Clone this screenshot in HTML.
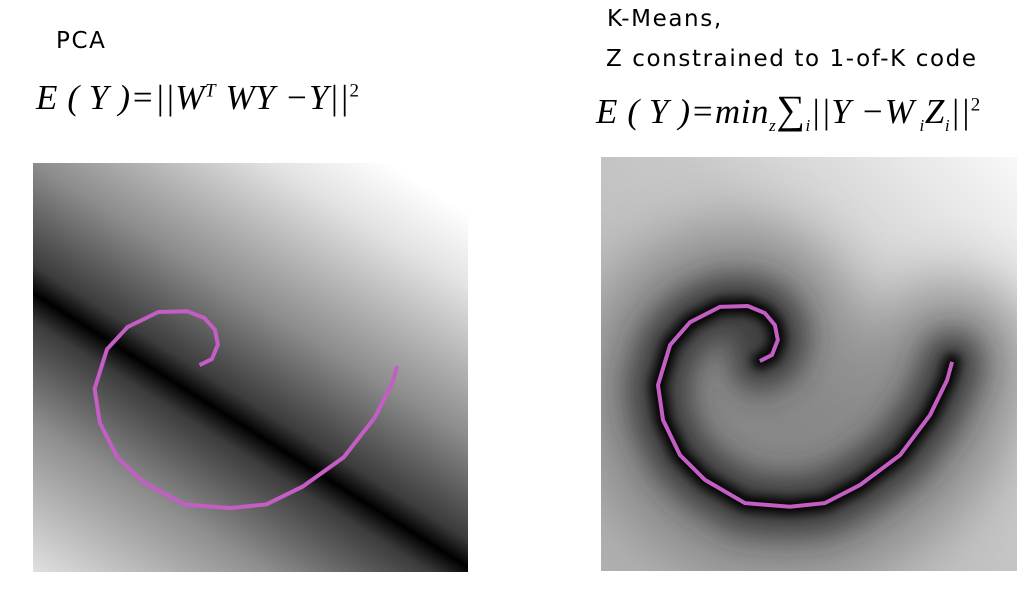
<!DOCTYPE html>
<html><head><meta charset="utf-8"><style>
body{margin:0;width:1033px;height:590px;background:#fff;overflow:hidden;position:relative;font-family:"DejaVu Sans","Liberation Sans",sans-serif}
.t{position:absolute;font-size:23px;color:#000;white-space:nowrap;font-family:"DejaVu Sans",sans-serif;letter-spacing:1.6px}
.f{position:absolute;font-family:"Liberation Serif",serif;font-style:italic;font-size:35px;white-space:nowrap;letter-spacing:0.6px}
</style></head><body>
<div class="t" style="left:56px;top:28px">PCA</div>
<div class="f" style="left:36px;top:78px">E ( Y )=||W<sup style="font-size:19px">T</sup> WY −Y||<sup style="font-size:19px;font-style:normal">2</sup></div>
<div class="t" style="left:607px;top:6px">K-Means,</div>
<div class="t" style="left:606px;top:46px">Z constrained to 1-of-K code</div>
<div class="f" style="left:596px;top:86px">E ( Y )=min<sub style="font-size:17px">z</sub><span style="font-style:normal;font-size:40px">∑</span><sub style="font-size:17px">i</sub>||Y −W<sub style="font-size:17px"> i</sub>Z<sub style="font-size:17px">i</sub>||<sup style="font-size:19px;font-style:normal">2</sup></div>
<svg id="svg" width="1033" height="590" style="position:absolute;left:0;top:0">
<defs>
<linearGradient id="lg" gradientUnits="userSpaceOnUse" x1="410" y1="176" x2="90" y2="684">
<stop offset="0" stop-color="#fff"/><stop offset="0.107" stop-color="#e2e2e2"/><stop offset="0.317" stop-color="#8c8c8c"/><stop offset="0.46" stop-color="#3c3c3c"/><stop offset="0.5" stop-color="#000"/><stop offset="0.54" stop-color="#3c3c3c"/><stop offset="0.683" stop-color="#8e8e8e"/><stop offset="0.893" stop-color="#e0e0e0"/><stop offset="1" stop-color="#fff"/></linearGradient>
<linearGradient id="rg" x1="0" y1="1" x2="1" y2="0">
<stop offset="0" stop-color="#b0b0b0"/><stop offset="0.6" stop-color="#c8c8c8"/><stop offset="1" stop-color="#f8f8f8"/></linearGradient>
<filter id="b1" filterUnits="userSpaceOnUse" x="500" y="50" width="620" height="620"><feGaussianBlur stdDeviation="30"/></filter>
<filter id="b2" filterUnits="userSpaceOnUse" x="500" y="50" width="620" height="620"><feGaussianBlur stdDeviation="14"/></filter>
<filter id="b3" filterUnits="userSpaceOnUse" x="500" y="50" width="620" height="620"><feGaussianBlur stdDeviation="5"/></filter>
<clipPath id="cr"><rect x="601" y="157" width="416" height="414"/></clipPath>
</defs>
<rect x="33" y="163" width="435" height="409" fill="url(#lg)"/>
<g clip-path="url(#cr)" id="rightg"><rect x="601" y="157" width="416" height="414" fill="url(#rg)"/></g>
</svg>
<script>
// spiral points in data units (0..100 across each panel)
const spiralX=[38.2,41.1,42.5,41.8,39.4,35.3,28.6,21.4,16.6,13.7,14.9,19.0,25.0,34.6,45.4,53.8,62.3,71.9,79.1,83.2,84.4];
const spiralY=[50.7,52.2,55.8,59.4,62.3,64.0,63.8,60.1,54.6,44.9,36.5,28.0,22.0,16.4,15.5,16.4,20.8,28.0,37.7,46.1,50.5];
const NS="http://www.w3.org/2000/svg";
const svg=document.getElementById('svg');
function panel(x0,y0,w,h){return {sx:v=>x0+v/100*w, sy:v=>y0+h-v/100*h};}
function pathD(p){return spiralX.map((v,i)=>(i?'L':'M')+p.sx(v).toFixed(1)+' '+p.sy(spiralY[i]).toFixed(1)).join(' ');}
const L=panel(36,165,428,406), R=panel(601,157,416,414);
const rg=document.getElementById('rightg');
[[160,'#7a7a7a','url(#b1)',0.8],[60,'#333','url(#b2)',0.85],[16,'#000','url(#b3)',1]].forEach(s=>{
  const p=document.createElementNS(NS,'path');
  p.setAttribute('d',pathD(R));p.setAttribute('fill','none');p.setAttribute('stroke',s[1]);
  p.setAttribute('stroke-width',s[0]);p.setAttribute('filter',s[2]);p.setAttribute('opacity',s[3]);
  p.setAttribute('stroke-linecap','round');
  
  
  rg.appendChild(p);
});
[[L,'pca-spiral'],[R,'kmeans-spiral']].forEach(a=>{
  const p=document.createElementNS(NS,'path');
  p.setAttribute('d',pathD(a[0]));p.setAttribute('fill','none');p.setAttribute('stroke','#c45ec4');
  p.setAttribute('stroke-width','4');
  
  
  svg.appendChild(p);
});
</script>
</body></html>
